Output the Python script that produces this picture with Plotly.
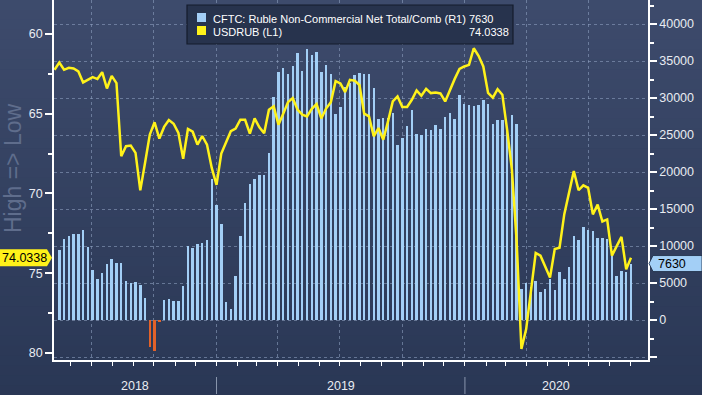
import plotly.graph_objects as go
import pandas as pd

# ---------------- data ----------------
bar_dates = pd.date_range("2018-05-15", periods=121, freq="7D")
line_dates = pd.date_range("2018-05-08", periods=122, freq="7D")

cftc_ruble_net = [
    9459, 10946, 11351, 11622, 11622, 12162, 9910, 6757, 5541, 6306,
    7568, 8243, 7703, 7703, 5315, 4955, 5135, 4730, 3018, -3694,
    -4144, -200, 2703, 2838, 2568, 2568, 4595, 10000, 9775, 10270,
    10450, 10811, 19000, 15541, 12973, 2477, 1441, 5946, 11351, 15766,
    18378, 19009, 19595, 19595, 22613, 30180, 33468, 34009, 33243, 34324,
    36036, 33649, 36577, 35811, 36261, 33468, 34459, 33243, 27793, 28739,
    31532, 31982, 33108, 33333, 33243, 33198, 31306, 27117, 27252, 27252,
    27928, 23649, 24550, 26261, 28378, 25090, 25000, 25766, 25676, 26351,
    25856, 27387, 27928, 27162, 30405, 29144, 29054, 28919, 29054, 29730,
    29189, 26486, 27027, 27027, 26036, 27703, 26486, 4144, 4955, 4500,
    5270, 3739, 4189, 5500, 4054, 6441, 5541, 7117, 11351, 10811,
    12523, 12162, 12027, 11036, 11036, 10901, 9000, 5946, 6667, 6532,
    7630,
]

usdrub = [
    62.25,
    61.79, 62.25, 62.13, 62.17, 62.35, 63.04, 62.88, 62.71, 62.83, 62.40,
    63.42, 62.63, 63.08, 67.67, 67.04, 67.00, 67.46, 69.81, 68.08, 66.31,
    65.54, 66.56, 65.83, 65.40, 65.63, 66.21, 67.83, 65.96, 66.13, 66.94,
    66.40, 66.94, 68.40, 69.46, 67.50, 66.80, 66.10, 65.93, 65.38, 65.38,
    66.25, 65.30, 65.85, 66.23, 64.75, 64.54, 65.69, 65.00, 64.28, 64.02,
    64.75, 65.06, 65.17, 64.70, 64.40, 65.30, 64.68, 64.28, 62.96, 63.10,
    63.65, 62.88, 62.93, 63.20, 65.00, 65.17, 66.42, 65.90, 66.63, 65.48,
    64.23, 63.92, 64.58, 64.58, 64.13, 63.54, 63.88, 63.44, 63.71, 63.67,
    63.73, 64.23, 63.50, 62.82, 62.20, 62.04, 61.94, 60.90, 61.37, 62.04,
    63.70, 64.00, 63.46, 63.81, 66.00, 68.50, 73.00, 79.75, 78.50, 76.20,
    73.73, 73.90, 74.56, 75.27, 73.48, 73.40, 71.30, 69.96, 68.60, 69.80,
    69.49, 69.65, 71.31, 70.70, 71.76, 71.63, 73.90, 73.30, 72.72, 74.75,
    74.0338,
]

right_ticks = [-5000, 0, 5000, 10000, 15000, 20000, 25000, 30000, 35000, 40000]
right_minor = [-2500, 2500, 7500, 12500, 17500, 22500, 27500, 32500, 37500, 42500]
left_ticks = [60, 65, 70, 75, 80]
left_minor = [62.5, 67.5, 72.5, 77.5]
years = ["2018", "2019", "2020"]

series_names = ["CFTC: Ruble Non-Commercial Net Total/Comb (R1)", "USDRUB (L1)"]
last_bar_label = "7630"
last_line_label = "74.0338"

# ---------------- styling ----------------
W, H = 702, 395
ML, MR, MT, MB = 54, 54, 0, 35
PW, PH = W - ML - MR, H - MT - MB

def px(x):
    return (x - ML) / PW

def py(y):
    return (PH - (y - MT)) / PH

BAR_BLUE = "#a3cff6"
NEG_ORANGE = "#e2622a"
YELLOW = "#fff21a"
TXT = "#e9ecf2"
FONT = "Liberation Sans"

bar_colors = [BAR_BLUE if v >= 0 else NEG_ORANGE for v in cftc_ruble_net]

fig = go.Figure()
fig.add_trace(go.Bar(
    x=bar_dates, y=cftc_ruble_net, yaxis="y",
    marker=dict(color=bar_colors, line=dict(width=0)),
    width=3.6 * 86400000, showlegend=False,
))
fig.add_trace(go.Scatter(
    x=line_dates, y=usdrub, yaxis="y2", mode="lines",
    line=dict(color=YELLOW, width=2.5), showlegend=False,
))

# background gradient
shapes = []
n = 40
top_c = (0x3d, 0x4b, 0x6c)
bot_c = (0x2a, 0x37, 0x55)
y_top, y_bot = 1.0, py(H)
for i in range(n):
    t = i / (n - 1)
    c = tuple(int(round(top_c[k] + (bot_c[k] - top_c[k]) * t)) for k in range(3))
    y1 = y_top - (y_top - y_bot) * i / n
    y0 = y_top - (y_top - y_bot) * (i + 1) / n
    shapes.append(dict(type="rect", xref="paper", yref="paper",
                       x0=px(0), x1=px(W), y0=y0 - 0.002, y1=y1,
                       fillcolor="rgb(%d,%d,%d)" % c, line=dict(width=0), layer="below"))

# legend box
shapes.append(dict(type="rect", xref="paper", yref="paper",
                   x0=px(187), x1=px(513), y0=py(44), y1=py(5),
                   fillcolor="#27334d", line=dict(color="#141c2c", width=1.2), layer="above"))
shapes.append(dict(type="rect", xref="paper", yref="paper",
                   x0=px(197), x1=px(206), y0=py(22), y1=py(13),
                   fillcolor=BAR_BLUE, line=dict(width=0), layer="above"))
shapes.append(dict(type="rect", xref="paper", yref="paper",
                   x0=px(197), x1=px(206), y0=py(35), y1=py(26),
                   fillcolor=YELLOW, line=dict(width=0), layer="above"))

# year separators in label band
for yr in years[1:]:
    shapes.append(dict(type="line", xref="x", yref="paper",
                       x0=f"{yr}-01-01", x1=f"{yr}-01-01", y0=py(377), y1=py(394),
                       line=dict(color="#8a96ad", width=1)))

# value tags
shapes.append(dict(type="path", xref="paper", yref="y2", xsizemode="pixel", ysizemode="pixel",
                   xanchor=px(0), yanchor=usdrub[-1],
                   path="M 0,8.5 L 47,8.5 L 52,0 L 47,-8.5 L 0,-8.5 Z",
                   fillcolor=YELLOW, line=dict(width=0), layer="above"))
shapes.append(dict(type="path", xref="paper", yref="y", xsizemode="pixel", ysizemode="pixel",
                   xanchor=px(649), yanchor=cftc_ruble_net[-1],
                   path="M 0,0 L 4,8 L 53,8 L 53,-8 L 4,-8 Z",
                   fillcolor=BAR_BLUE, line=dict(color="#1b2740", width=0.8), layer="above"))

annotations = []
annotations.append(dict(xref="paper", yref="paper", x=px(211), y=py(19), xanchor="left", yanchor="middle",
                        text=series_names[0], showarrow=False, font=dict(family=FONT, size=11, color="white")))
annotations.append(dict(xref="paper", yref="paper", x=px(211), y=py(32), xanchor="left", yanchor="middle",
                        text=series_names[1], showarrow=False, font=dict(family=FONT, size=11, color="white")))
annotations.append(dict(xref="paper", yref="paper", x=px(467), y=py(19), xanchor="left", yanchor="middle",
                        text=last_bar_label, showarrow=False, font=dict(family=FONT, size=11, color="white")))
annotations.append(dict(xref="paper", yref="paper", x=px(467), y=py(32), xanchor="left", yanchor="middle",
                        text=last_line_label, showarrow=False, font=dict(family=FONT, size=11, color="white")))
annotations.append(dict(xref="paper", yref="y2", x=px(24), y=usdrub[-1], xanchor="center", yanchor="middle",
                        text=last_line_label, showarrow=False, font=dict(family=FONT, size=12.5, color="black")))
annotations.append(dict(xref="paper", yref="y", x=px(656), y=cftc_ruble_net[-1], xanchor="left", yanchor="middle",
                        text=last_bar_label, showarrow=False, font=dict(family=FONT, size=12.5, color="black")))
annotations.append(dict(xref="paper", yref="paper", x=px(13), y=py(168), xanchor="center", yanchor="middle",
                        text="High => Low", textangle=-90, showarrow=False,
                        font=dict(family=FONT, size=23, color="#5f6d8c")))

# year labels centred in their visible span
x_start = pd.Timestamp("2018-05-07 05:00")
x_end = pd.Timestamp("2020-09-26")
for yr in years:
    a = max(pd.Timestamp(f"{yr}-01-01"), x_start)
    b = min(pd.Timestamp(f"{int(yr)+1}-01-01"), x_end)
    mid = a + (b - a) / 2
    annotations.append(dict(xref="x", yref="paper", x=mid, y=py(386), xanchor="center", yanchor="middle",
                            text=yr, showarrow=False, font=dict(family=FONT, size=12.5, color=TXT)))

grid_c = "rgba(140,158,190,0.6)"
grid_dash = "3px,3px"

fig.update_layout(
    width=W, height=H,
    margin=dict(l=ML, r=MR, t=MT, b=MB, pad=0),
    paper_bgcolor="#2c3a57", plot_bgcolor="rgba(0,0,0,0)",
    bargap=0, showlegend=False,
    font=dict(family=FONT, color=TXT, size=12.5),
    shapes=shapes, annotations=annotations,
    xaxis=dict(
        type="date", range=[x_start, x_end],
        showline=True, linecolor="white", linewidth=1.5,
        ticks="outside", ticklen=4, tickcolor="white", tickwidth=1,
        tick0="2018-01-01", dtick="M3",
        showgrid=True, gridcolor=grid_c, griddash=grid_dash, gridwidth=1,
        showticklabels=False, zeroline=False,
        minor=dict(dtick="M1", tick0="2018-01-01", ticks="outside", ticklen=4, tickcolor="white", showgrid=False),
    ),
    yaxis=dict(
        side="right", range=[-5405, 43243],
        tickmode="array", tickvals=right_ticks,
        ticktext=["" if v < 0 else str(v) for v in right_ticks],
        showline=True, linecolor="white", linewidth=1.5,
        ticks="outside", ticklen=7, tickcolor="white", tickwidth=1.5,
        showgrid=True, gridcolor=grid_c, griddash=grid_dash, gridwidth=1,
        zeroline=False, tickfont=dict(family=FONT, size=12.5, color=TXT),
        minor=dict(tickmode="array", tickvals=right_minor, ticks="outside", ticklen=4,
                   tickcolor="white", showgrid=False),
    ),
    yaxis2=dict(
        overlaying="y", side="left", range=[80.44, 57.875],
        tickmode="array", tickvals=left_ticks,
        showline=True, linecolor="white", linewidth=1.5,
        ticks="outside", ticklen=7, tickcolor="white", tickwidth=1.5,
        showgrid=False, zeroline=False,
        tickfont=dict(family=FONT, size=12.5, color=TXT),
        minor=dict(tickmode="array", tickvals=left_minor, ticks="outside", ticklen=4,
                   tickcolor="white", showgrid=False),
    ),
)

fig.write_html(
    "out.html",
    config={"displayModeBar": False},
    post_script="document.body.style.margin='0';document.body.style.padding='0';"
                "document.body.style.background='#2c3a57';",
)
